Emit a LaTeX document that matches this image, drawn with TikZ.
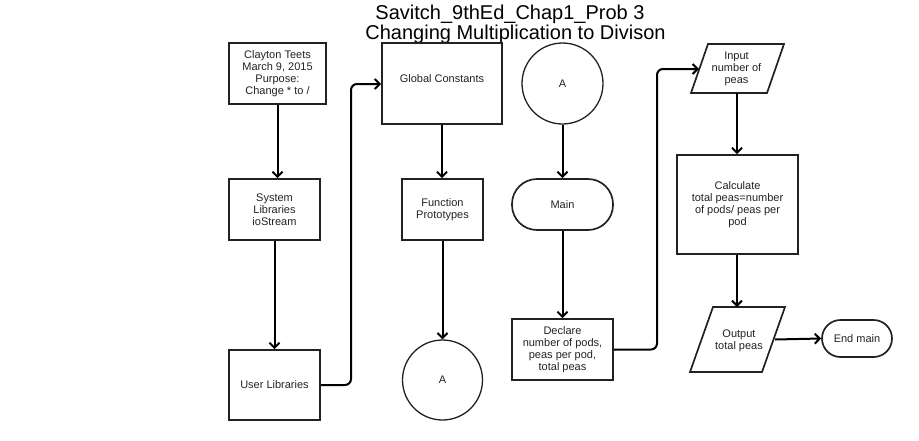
\documentclass[tikz,border=0pt]{standalone}
\usepackage{fontspec}
\setmainfont{Liberation Sans}
\usetikzlibrary{arrows.meta,shapes.geometric}
\definecolor{ink}{HTML}{222222}
\tikzset{
  box/.style={draw=ink, line width=1.7pt, rectangle, inner sep=2pt, align=center, font=\fontsize{11}{12}\selectfont, text=ink},
  circ/.style={draw=ink, line width=1.3pt, circle, inner sep=0pt, font=\fontsize{11}{12}\selectfont, text=ink},
  term/.style={box, rounded corners=#1},
  txt/.style={align=center, font=\fontsize{11}{12}\selectfont, text=ink, inner sep=0pt},
  ttl/.style={font=\fontsize{20}{20}\selectfont, text=black, inner sep=0pt, anchor=base},
  para/.style={draw=ink, line width=1.7pt, line join=miter},
  conn/.style={draw=black, line width=2pt, ->, >={Straight Barb[length=5pt,width=10pt]}, rounded corners=6pt},
}
\begin{document}
\begin{tikzpicture}[x=1pt,y=-1pt]
\useasboundingbox (0,0) rectangle (919,440);
% title
\node[ttl] (title1) at (510,19.3) {Savitch\_9thEd\_Chap1\_Prob 3};
\node[ttl] (title2) at (515.5,39.3) {Changing Multiplication to Divison};
% left column
\node[box, minimum width=97pt, minimum height=61pt] (clayton) at (277.5,73.5) {Clayton Teets\\March 9, 2015\\Purpose:\\Change * to /};
\node[box, minimum width=91pt, minimum height=61pt] (syslib) at (274.5,209.5) {System\\Libraries\\ioStream};
\node[box, minimum width=91pt, minimum height=70pt] (userlib) at (274.5,385) {User Libraries};
% second column
\node[box, minimum width=120pt, minimum height=81pt] (global) at (442,83.5) {};
\node[txt] (globalt) at (442,79) {Global Constants};
\node[box, minimum width=81pt, minimum height=61pt] (funcproto) at (442.5,209.5) {Function\\Prototypes};
\node[circ, minimum size=80pt] (circA2) at (442.5,380) {A};
% third column
\node[circ, minimum size=81pt] (circA1) at (562.5,83.5) {A};
\node[term=25pt, minimum width=101pt, minimum height=51pt] (main) at (562.5,204.5) {Main};
\node[box, minimum width=101pt, minimum height=61pt] (declare) at (562.5,349.5) {Declare\\number of pods,\\peas per pod,\\total peas};
% fourth column
\coordinate (inTL) at (708,44);
\coordinate (inTR) at (784,44);
\coordinate (inBR) at (767,93);
\coordinate (inBL) at (691,93);
\draw[para] (inTL) -- (inTR) -- (inBR) -- (inBL) -- cycle;
\node[txt] (input) at (736.5,69) {Input\\number of\\peas};
\coordinate (inL) at (699,69);
\coordinate (inB) at (737,93);
\node[box, minimum width=121pt, minimum height=99pt] (calc) at (737.5,204.5) {Calculate\\total peas=number\\of pods/ peas per\\pod};
\coordinate (outTL) at (713,307);
\coordinate (outTR) at (785,307);
\coordinate (outBR) at (762,372);
\coordinate (outBL) at (690,372);
\draw[para] (outTL) -- (outTR) -- (outBR) -- (outBL) -- cycle;
\node[txt] (output) at (739,340.5) {Output\\total peas};
\coordinate (outT) at (737,307);
\coordinate (outR) at (775,339.5);
\node[term=18.5pt, minimum width=70pt, minimum height=37pt] (endmain) at (857,338.5) {End main};
% connectors
\draw[conn] (clayton.south) -- (clayton.south |- syslib.north);
\draw[conn] (syslib.south) -- (syslib.south |- userlib.north);
\draw[conn] (userlib.east) -- (351,385) -- (351,84) -- (global.west |- 0,84);
\draw[conn] (global.south) -- (global.south |- funcproto.north);
\draw[conn] (funcproto.south) -- (circA2.north);
\draw[conn] (circA1.south) -- (main.north);
\draw[conn] (main.south) -- (declare.north);
\draw[conn] (declare.east) -- (657,349.5) -- (657,69) -- (inL);
\draw[conn] (inB) -- (inB |- calc.north);
\draw[conn] (calc.south -| inB) -- (outT);
\draw[conn] (outR) -- (endmain.west);
\end{tikzpicture}
\end{document}
